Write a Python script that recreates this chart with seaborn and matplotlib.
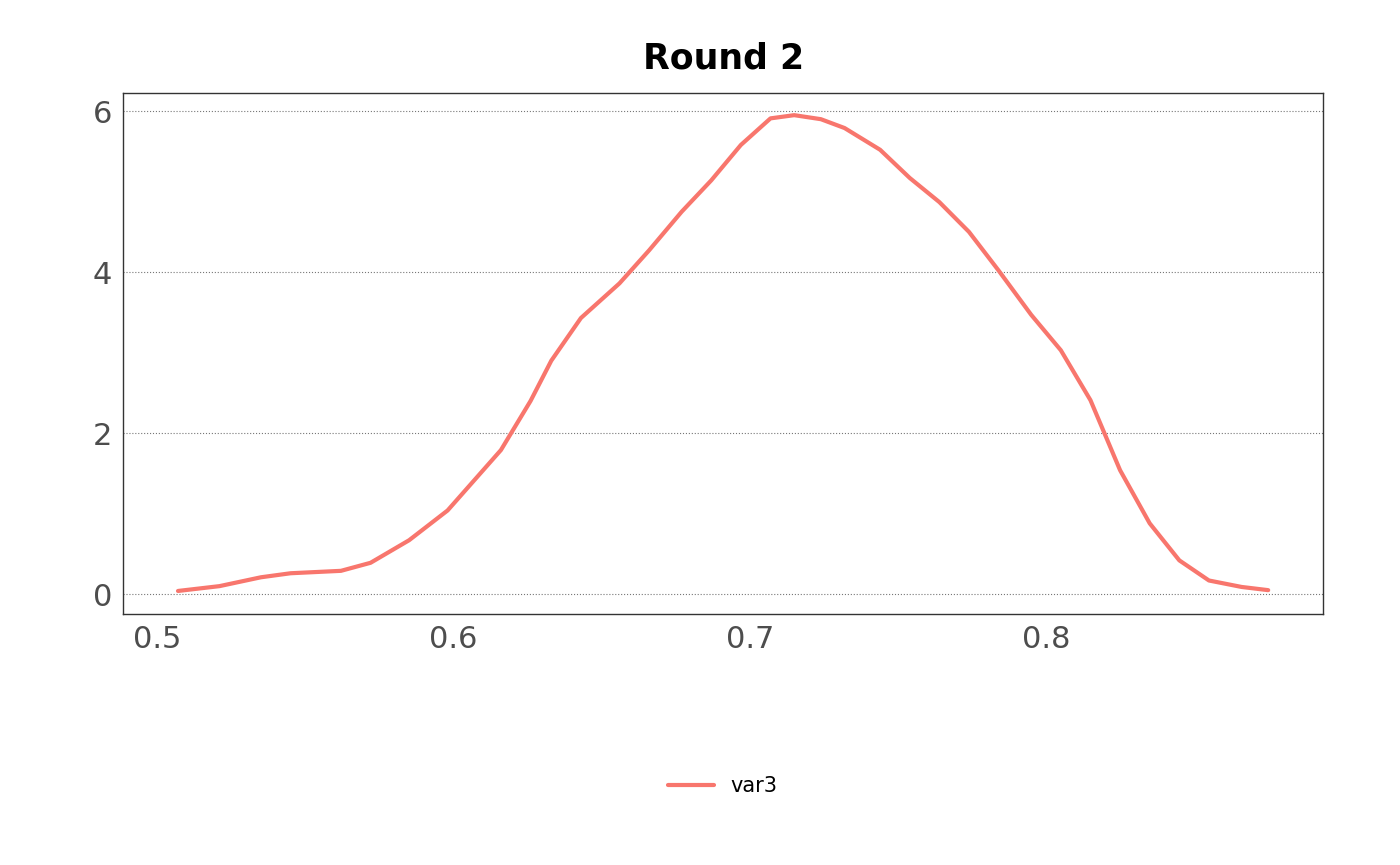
import matplotlib
matplotlib.use("Agg")
import matplotlib.pyplot as plt
import seaborn as sns
import pandas as pd

# density curve points
x_vals = [0.507, 0.521, 0.535, 0.545, 0.562, 0.572, 0.585, 0.598, 0.616, 0.626,
          0.633, 0.643, 0.656, 0.666, 0.677, 0.687, 0.697, 0.707, 0.715, 0.724,
          0.732, 0.744, 0.754, 0.764, 0.774, 0.784, 0.795, 0.805, 0.815, 0.825,
          0.835, 0.845, 0.855, 0.866, 0.875]
y_vals = [0.04, 0.10, 0.21, 0.26, 0.29, 0.39, 0.67, 1.04, 1.79, 2.40,
          2.90, 3.43, 3.86, 4.27, 4.75, 5.14, 5.58, 5.91, 5.95, 5.90,
          5.79, 5.52, 5.17, 4.87, 4.50, 4.02, 3.47, 3.03, 2.41, 1.54,
          0.88, 0.42, 0.17, 0.09, 0.05]
series = "var3"

df = pd.DataFrame({"x": x_vals, "y": y_vals, "series": series})

sns.set_style("white")
fig = plt.figure(figsize=(14, 8.65), dpi=100)
ax = fig.add_axes([0.088, 0.29, 0.857, 0.602])

sns.lineplot(data=df, x="x", y="y", hue="series", palette=["#F8766D"],
             linewidth=3, ax=ax, legend=True)

ax.set_xlim(0.4885, 0.8935)
ax.set_ylim(-0.248, 6.22)
ax.set_xticks([0.5, 0.6, 0.7, 0.8])
ax.set_yticks([0, 2, 4, 6])
ax.set_xticklabels(["0.5", "0.6", "0.7", "0.8"])
ax.set_yticklabels(["0", "2", "4", "6"])
ax.tick_params(labelsize=22, colors="#4d4d4d", length=0, pad=8)
ax.set_xlabel("")
ax.set_ylabel("")
ax.yaxis.grid(True, linestyle=":", color="#777777", linewidth=0.8)
for s in ax.spines.values():
    s.set_color("#333333")
    s.set_linewidth(1)
ax.set_title("Round 2", fontsize=25, fontweight="bold", color="black", pad=18)

leg = ax.legend(loc="center", bbox_to_anchor=(0.5, -0.33), frameon=False,
                fontsize=15, handlelength=2.2)
for t in leg.get_texts():
    t.set_color("black")

fig.savefig("out.png")
